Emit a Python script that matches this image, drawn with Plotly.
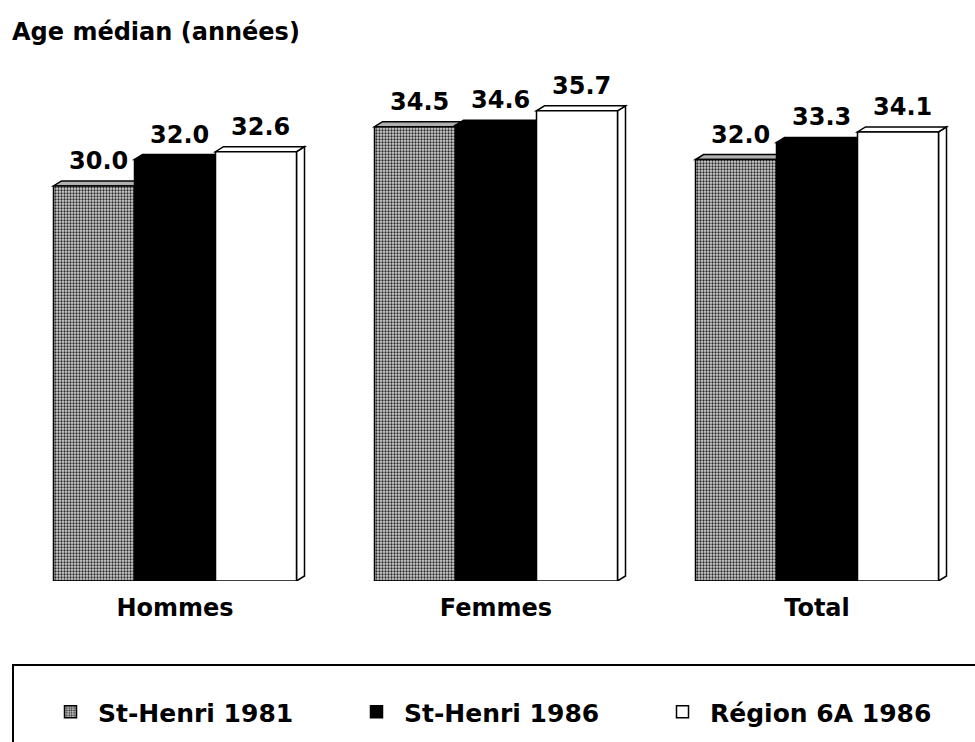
import plotly.graph_objects as go

categories = ["Hommes", "Femmes", "Total"]
series_names = ["St-Henri 1981", "St-Henri 1986", "Région 6A 1986"]
st_henri_1981 = [30.0, 34.5, 32.0]
st_henri_1986 = [32.0, 34.6, 33.3]
region_6a_1986 = [32.6, 35.7, 34.1]
title_text = "Age médian (années)"

series_values = [st_henri_1981, st_henri_1986, region_6a_1986]
front_colors = ["#c8c8c8", "#000000", "#ffffff"]
top_colors = ["#b0b0b0", "#000000", "#ffffff"]

FONT = "DejaVu Sans"
W, H = 975, 742
ML, MR, MT, MB = 0, 0, 60, 161
bargap = 0.243
bw = (1 - bargap) / 3
px_per_cat = 321.0
x0 = -175.0 / px_per_cat
x1 = x0 + (W - ML - MR) / px_per_cat
px_per_unit = 13.17
y_top = (H - MT - MB) / px_per_unit
dx = 8 / px_per_cat
dy = 5 / px_per_unit

fig = go.Figure()
for j, (name, vals) in enumerate(zip(series_names, series_values)):
    marker = dict(color=front_colors[j], line=dict(color="black", width=1.5))
    if j == 0:
        marker["pattern"] = dict(shape=".", fgcolor="#2a2a2a", bgcolor="#d4d4d4",
                                 size=3, solidity=0.45, fillmode="replace")
    fig.add_trace(go.Bar(x=list(range(len(categories))), y=vals, name=name,
                         marker=marker, width=bw, offset=(j - 1.5) * bw))

shapes = []
annotations = []
for j, vals in enumerate(series_values):
    for i, v in enumerate(vals):
        xc = i + (j - 1) * bw
        xl, xr = xc - bw / 2, xc + bw / 2
        # side face
        shapes.append(dict(type="path", xref="x", yref="y", layer="below",
                           path=f"M{xr},0 L{xr},{v} L{xr+dx},{v+dy} L{xr+dx},{dy} Z",
                           fillcolor=top_colors[j],
                           line=dict(color="black", width=1.5)))
        # top face
        shapes.append(dict(type="path", xref="x", yref="y", layer="below",
                           path=f"M{xl},{v} L{xr},{v} L{xr+dx},{v+dy} L{xl+dx},{v+dy} Z",
                           fillcolor=top_colors[j],
                           line=dict(color="black", width=1.5)))
        annotations.append(dict(x=xc + dx / 2, y=v, xref="x", yref="y",
                                text=f"{v:.1f}", showarrow=False,
                                yanchor="bottom", yshift=9,
                                font=dict(family=FONT, size=24, color="black", weight="bold")))

plot_h = H - MT - MB
# legend frame
shapes.append(dict(type="rect", xref="paper", yref="paper", layer="above",
                   x0=13 / W, x1=1.02, y0=-0.6, y1=(H - MB - 665) / plot_h,
                   line=dict(color="black", width=2), fillcolor="rgba(0,0,0,0)"))

fig.update_layout(
    width=W, height=H,
    margin=dict(l=ML, r=MR, t=MT, b=MB),
    paper_bgcolor="white", plot_bgcolor="white",
    barmode="overlay",
    title=dict(text=title_text, x=12 / W, xanchor="left", xref="paper",
               y=1 - 32 / H, yanchor="middle", yref="container",
               font=dict(family=FONT, size=24, color="black", weight="bold")),
    xaxis=dict(range=[x0, x1], tickmode="array", tickvals=list(range(len(categories))),
               ticktext=categories, showgrid=False, zeroline=False, showline=False,
               ticks="", ticklabelstandoff=10,
               tickfont=dict(family=FONT, size=24, color="black", weight="bold")),
    yaxis=dict(range=[0, y_top], visible=False, showgrid=False, zeroline=False),
    showlegend=True,
    legend=dict(orientation="h", x=43 / W, xanchor="left",
                y=(H - MB - 712) / plot_h, yanchor="middle",
                font=dict(family=FONT, size=25, color="black", weight="bold"),
                entrywidth=246, entrywidthmode="pixels", itemwidth=45,
                bgcolor="rgba(0,0,0,0)", borderwidth=0, traceorder="normal"),
    shapes=shapes,
    annotations=annotations,
)

fig.write_html("out.html", config={"displayModeBar": False},
               post_script="document.body.style.margin='0';")
